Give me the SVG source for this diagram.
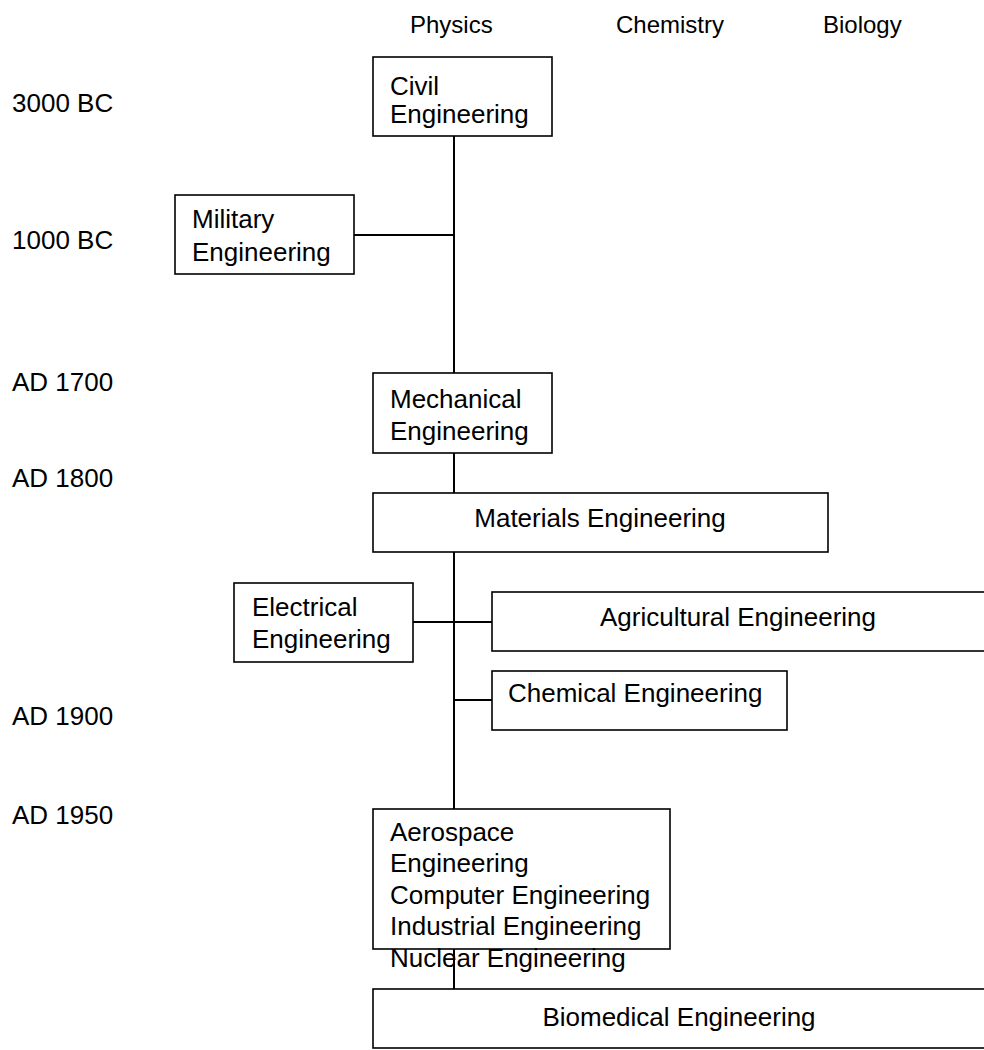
<svg xmlns="http://www.w3.org/2000/svg" width="984" height="1050" viewBox="0 0 984 1050">
<style>
text{font-family:"Liberation Sans",Arial,Helvetica,sans-serif;font-size:26px;fill:#000}
.hd{font-size:24px}
.box{fill:#fff;stroke:#000;stroke-width:1.6}
.ln{stroke:#000;stroke-width:2;fill:none}
.c{text-anchor:middle}
</style>
<rect width="984" height="1050" fill="#fff"/>
<g id="headers">
<text class="hd" x="410" y="33">Physics</text>
<text class="hd" x="616" y="33">Chemistry</text>
<text class="hd" x="823" y="33">Biology</text>
</g>
<g id="years">
<text x="12" y="112">3000 BC</text>
<text x="12" y="249">1000 BC</text>
<text x="12" y="391">AD 1700</text>
<text x="12" y="487">AD 1800</text>
<text x="12" y="725">AD 1900</text>
<text x="12" y="824">AD 1950</text>
</g>
<g id="connectors">
<line class="ln" x1="454" y1="136" x2="454" y2="373"/>
<line class="ln" x1="454" y1="453" x2="454" y2="493"/>
<line class="ln" x1="454" y1="552" x2="454" y2="809"/>
<line class="ln" x1="454" y1="949" x2="454" y2="989"/>
<line class="ln" x1="354" y1="235" x2="454" y2="235"/>
<line class="ln" x1="413" y1="622" x2="492" y2="622"/>
<line class="ln" x1="454" y1="700" x2="492" y2="700"/>
</g>
<g id="civil">
<rect class="box" x="373" y="57" width="179" height="79"/>
<text x="390" y="95">Civil</text>
<text x="390" y="123">Engineering</text>
</g>
<g id="military">
<rect class="box" x="175" y="195" width="179" height="79"/>
<text x="192" y="228">Military</text>
<text x="192" y="261">Engineering</text>
</g>
<g id="mechanical">
<rect class="box" x="373" y="373" width="179" height="80"/>
<text x="390" y="408">Mechanical</text>
<text x="390" y="440">Engineering</text>
</g>
<g id="materials">
<rect class="box" x="373" y="493" width="455" height="59"/>
<text class="c" x="600" y="527">Materials Engineering</text>
</g>
<g id="electrical">
<rect class="box" x="234" y="583" width="179" height="79"/>
<text x="252" y="616">Electrical</text>
<text x="252" y="648">Engineering</text>
</g>
<g id="agricultural">
<rect class="box" x="492" y="592" width="494" height="59"/>
<text class="c" x="738" y="626">Agricultural Engineering</text>
</g>
<g id="chemical">
<rect class="box" x="492" y="671" width="295" height="59"/>
<text x="508" y="702">Chemical Engineering</text>
</g>
<g id="aerospace">
<rect class="box" x="373" y="809" width="297" height="140" fill-opacity="0"/>
<text x="390" y="841">Aerospace</text>
<text x="390" y="872">Engineering</text>
<text x="390" y="904">Computer Engineering</text>
<text x="390" y="935">Industrial Engineering</text>
<text x="390" y="967">Nuclear Engineering</text>
</g>
<g id="biomedical">
<rect class="box" x="373" y="989" width="613" height="59"/>
<text class="c" x="679" y="1026">Biomedical Engineering</text>
</g>
</svg>
